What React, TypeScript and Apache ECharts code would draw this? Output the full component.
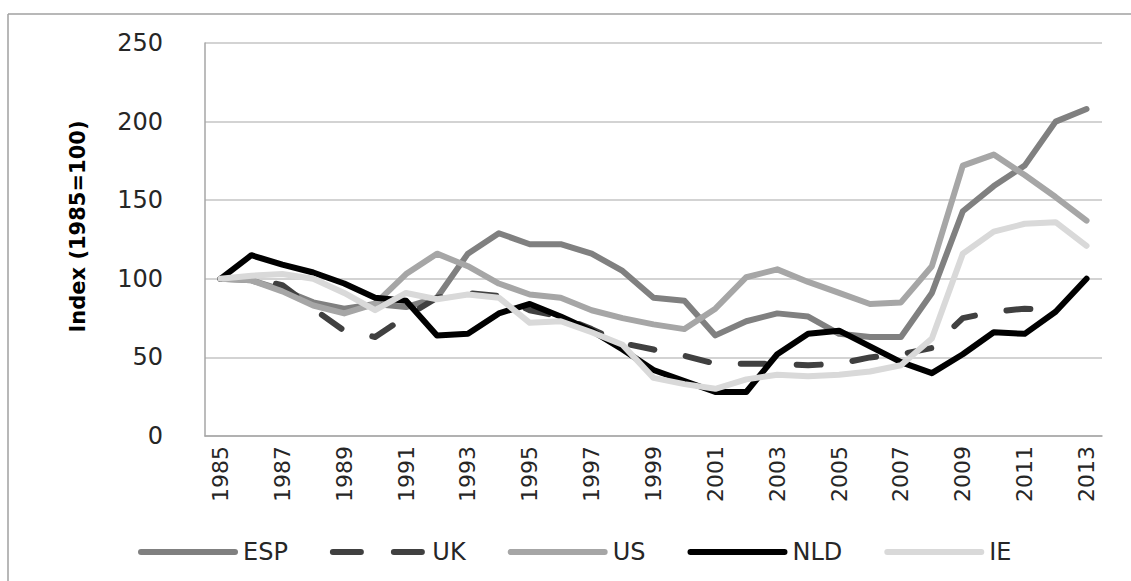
import React, { useEffect, useRef } from "react";
import * as echarts from "echarts";

const years = [
  "1985", "1986", "1987", "1988", "1989", "1990", "1991", "1992", "1993", "1994",
  "1995", "1996", "1997", "1998", "1999", "2000", "2001", "2002", "2003", "2004",
  "2005", "2006", "2007", "2008", "2009", "2010", "2011", "2012", "2013",
];

const esp = [100, 99, 93, 85, 81, 84, 82, 88, 116, 129, 122, 122, 116, 105, 88, 86, 64, 73, 78, 76, 65, 63, 63, 91, 143, 159, 172, 200, 208];
const uk = [100, 100, 96, 81, 67, 63, 76, 88, 91, 89, 80, 76, 68, 59, 55, 51, 46, 46, 46, 45, 46, 50, 52, 56, 75, 79, 81, 80, null];
const us = [100, 99, 92, 83, 78, 84, 103, 116, 108, 97, 90, 88, 80, 75, 71, 68, 81, 101, 106, 98, 91, 84, 85, 108, 172, 179, 166, 152, 137];
const nld = [100, 115, 109, 104, 97, 88, 86, 64, 65, 78, 84, 76, 67, 55, 42, 35, 28, 28, 52, 65, 67, 57, 47, 40, 52, 66, 65, 79, 100];
const ie = [100, 102, 103, 100, 91, 80, 91, 87, 90, 88, 72, 73, 66, 58, 37, 33, 30, 36, 39, 38, 39, 41, 45, 62, 116, 130, 135, 136, 121];

const yTicks = { min: 0, max: 250, interval: 50 };
const yTitle = "Index (1985=100)";

const colors = {
  ESP: "#808080",
  UK: "#404040",
  US: "#a6a6a6",
  NLD: "#000000",
  IE: "#d9d9d9",
};

export default function App() {
  const ref = useRef<HTMLDivElement>(null);

  useEffect(() => {
    if (!ref.current) return;
    const chart = echarts.init(ref.current, null, { renderer: "svg" });

    const mk = (name: string, data: (number | null)[], dash?: number[]) => ({
      name,
      type: "line",
      data,
      symbol: "none",
      connectNulls: false,
      itemStyle: { color: (colors as any)[name] },
      lineStyle: {
        color: (colors as any)[name],
        width: 6,
        cap: "round",
        join: "round",
        type: dash ? dash : "solid",
      },
    });

    const solidIcon = "path://M3,0H97A3,3,0,0,1,97,6H3A3,3,0,0,1,3,0Z";
    const dashIcon =
      "path://M3,0H31A3,3,0,0,1,31,6H3A3,3,0,0,1,3,0Z M64,0H92A3,3,0,0,1,92,6H64A3,3,0,0,1,64,0Z";

    chart.setOption({
      animation: false,
      backgroundColor: "#ffffff",
      grid: { left: 205, right: 29, top: 43, bottom: 145 },
      legend: {
        left: 133,
        top: 535,
        itemWidth: 100,
        itemHeight: 6,
        itemGap: 42,
        textStyle: { fontSize: 24, color: "#262626", fontFamily: "DejaVu Sans" },
        data: [
          { name: "ESP", icon: solidIcon },
          { name: "UK", icon: dashIcon },
          { name: "US", icon: solidIcon },
          { name: "NLD", icon: solidIcon },
          { name: "IE", icon: solidIcon },
        ],
      },
      xAxis: {
        type: "category",
        data: years,
        boundaryGap: true,
        axisLine: { show: true, lineStyle: { color: "#a6a6a6", width: 1.5 } },
        axisTick: { show: false },
        axisLabel: {
          interval: 1,
          rotate: 90,
          margin: 10,
          fontSize: 22,
          fontFamily: "DejaVu Sans",
          color: "#262626",
        },
        splitLine: { show: false },
      },
      yAxis: {
        type: "value",
        min: yTicks.min,
        max: yTicks.max,
        interval: yTicks.interval,
        name: yTitle,
        nameLocation: "middle",
        nameGap: 117,
        nameTextStyle: {
          fontSize: 21,
          fontWeight: "bold",
          fontFamily: "DejaVu Sans",
          color: "#000000",
          padding: [0, 0, 0, 26],
        },
        axisLine: { show: true, lineStyle: { color: "#a6a6a6", width: 1.5 } },
        axisTick: { show: false },
        axisLabel: {
          margin: 42,
          fontSize: 24,
          fontFamily: "DejaVu Sans",
          color: "#262626",
        },
        splitLine: { show: true, lineStyle: { color: "#c4c4c4", width: 1.5 } },
      },
      graphic: [
        {
          type: "line",
          shape: { x1: 8, y1: 14, x2: 1131, y2: 14 },
          style: { stroke: "#a0a0a0", lineWidth: 1.5 },
          silent: true,
        },
        {
          type: "line",
          shape: { x1: 8, y1: 14, x2: 8, y2: 581 },
          style: { stroke: "#a0a0a0", lineWidth: 1.5 },
          silent: true,
        },
      ],
      series: [
        mk("ESP", esp),
        mk("UK", uk, [24, 32]),
        mk("US", us),
        mk("NLD", nld),
        mk("IE", ie),
      ],
    });

    return () => chart.dispose();
  }, []);

  return (
    <div
      ref={ref}
      style={{ position: "fixed", left: 0, top: 0, width: 1131, height: 581, background: "#fff" }}
    />
  );
}
